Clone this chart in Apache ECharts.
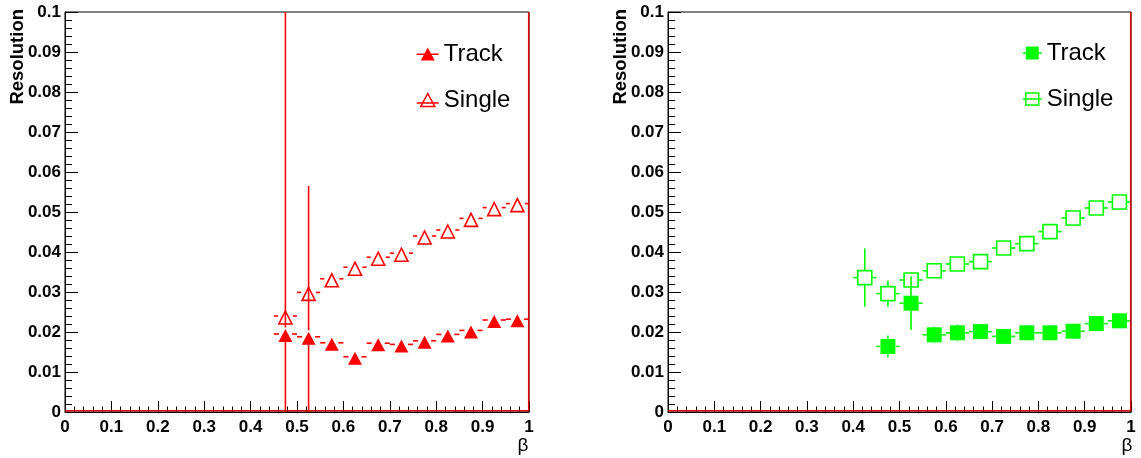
<!DOCTYPE html>
<html>
<head>
<meta charset="utf-8">
<script src="https://cdn.jsdelivr.net/npm/echarts@6/dist/echarts.min.js"></script>
<style>
html,body{margin:0;padding:0;background:#fff;}
#chart{width:1141px;height:458px;}
</style>
</head>
<body>
<div id="chart"></div>
<script>
// ---------- data ----------
const xTickLabels = ['0','0.1','0.2','0.3','0.4','0.5','0.6','0.7','0.8','0.9','1'];
const yTickLabels = ['0','0.01','0.02','0.03','0.04','0.05','0.06','0.07','0.08','0.09','0.1'];
const binHalfWidth = 0.025;

// left panel (red)
const leftX         = [0.475,0.525,0.575,0.625,0.675,0.725,0.775,0.825,0.875,0.925,0.975];
const leftTrack     = [0.0195,0.0188,0.0173,0.0138,0.0172,0.0169,0.0178,0.0194,0.0204,0.0230,0.0232];
const leftTrackErr  = [0.09,0.0377,0.001,0.001,0.001,0.001,0.001,0.001,0.001,0.001,0.001];
const leftSingle    = [0.0240,0.0299,0.0333,0.0362,0.0387,0.0397,0.0440,0.0455,0.0484,0.0511,0.0521];
const leftSingleErr = [0.001,0.001,0.001,0.001,0.001,0.001,0.001,0.001,0.001,0.001,0.001];

// right panel (green)
const rightTrackX     = [0.475,0.525,0.575,0.625,0.675,0.725,0.775,0.825,0.875,0.925,0.975];
const rightTrack      = [0.0164,0.0272,0.0193,0.0198,0.0201,0.0189,0.0198,0.0198,0.0202,0.0221,0.0228];
const rightTrackErr   = [0.0027,0.0067,0.0021,0.0021,0.0019,0.001,0.001,0.001,0.001,0.001,0.001];
const rightSingleX    = [0.425,0.475,0.525,0.575,0.625,0.675,0.725,0.775,0.825,0.875,0.925,0.975];
const rightSingle     = [0.0336,0.0296,0.0330,0.0353,0.0370,0.0376,0.0410,0.0421,0.0451,0.0485,0.0510,0.0525];
const rightSingleErr  = [0.0073,0.0033,0.0015,0.001,0.001,0.001,0.001,0.001,0.001,0.001,0.001,0.001];

// ---------- helpers ----------
const RED = '#ff0000', GREEN = '#00ff00';
const LABEL_FONT = 'Liberation Sans';

function pts(xs, ys, es){ return xs.map((x,i)=>[x, ys[i], es ? es[i] : 0]); }

function errSeries(name, xi, yi, data, color, gap){
  return {
    type:'custom', name:name, xAxisIndex:xi, yAxisIndex:yi, z:2,
    silent:true, legendHoverLink:false,
    encode:{x:0, y:1},
    data:data,
    renderItem:function(params, api){
      const x = api.value(0), y = api.value(1), e = api.value(2);
      const c = api.coord([x,y]);
      const xl = api.coord([x-binHalfWidth, y])[0];
      const xr = api.coord([x+binHalfWidth, y])[0];
      const top = api.coord([x, Math.min(y+e, 0.1)])[1];
      const bot = api.coord([x, Math.max(y-e, 0)])[1];
      const st = {stroke:color, lineWidth:1.6};
      const ch = [];
      if (c[0]-gap > xl) ch.push({type:'line', shape:{x1:xl,y1:c[1],x2:c[0]-gap,y2:c[1]}, style:st});
      if (xr > c[0]+gap) ch.push({type:'line', shape:{x1:c[0]+gap,y1:c[1],x2:xr,y2:c[1]}, style:st});
      if (c[1]-gap > top) ch.push({type:'line', shape:{x1:c[0],y1:top,x2:c[0],y2:c[1]-gap}, style:st});
      if (bot > c[1]+gap) ch.push({type:'line', shape:{x1:c[0],y1:c[1]+gap,x2:c[0],y2:bot}, style:st});
      return {type:'group', children:ch};
    }
  };
}

function xAxisDef(gi){
  return {
    type:'value', gridIndex:gi, min:0, max:1, interval:0.1,
    axisLine:{show:true, onZero:false, lineStyle:{color:'#000', width:1}},
    axisTick:{show:true, inside:true, length:11, lineStyle:{color:'#000', width:1}},
    minorTick:{show:true, splitNumber:5, length:5.5, lineStyle:{color:'#000', width:1}},
    splitLine:{show:false},
    axisLabel:{color:'#000', fontFamily:LABEL_FONT, fontWeight:'bold', fontSize:17, margin:7,
      formatter:v=>xTickLabels[Math.round(v*10)]}
  };
}
function yAxisDef(gi){
  return {
    type:'value', gridIndex:gi, min:0, max:0.1, interval:0.01,
    axisLine:{show:true, onZero:false, lineStyle:{color:'#000', width:1}},
    axisTick:{show:true, inside:true, length:13, lineStyle:{color:'#000', width:1}},
    minorTick:{show:true, splitNumber:5, length:7, lineStyle:{color:'#000', width:1}},
    splitLine:{show:false},
    axisLabel:{color:'#000', fontFamily:LABEL_FONT, fontWeight:'bold', fontSize:17, margin:4,
      formatter:v=>yTickLabels[Math.round(v*100)]}
  };
}
function outline(xi, yi){
  return {type:'line', xAxisIndex:xi, yAxisIndex:yi, silent:true, symbol:'none', z:3,
    lineStyle:{color:'#e00000', width:1.5}, data:[[0,0.0003],[0.9993,0.0003],[0.9993,0.1]], legendHoverLink:false};
}

const triFill  = 'path://M0,7H22V8.5H0Z M11,1L18,14L4,14Z';
const triOpen  = 'path://M0,10.5L22,10.5 M11,1L18,14L4,14Z';
const sqFill   = 'path://M0,6H19V7.5H0Z M3,0H16V13H3Z';
const sqOpen   = 'path://M0,6.5L19,6.5 M3,0.5H16V12.5H3Z';

const chart = echarts.init(document.getElementById('chart'), null, {renderer:'canvas'});
chart.setOption({
  animation:false,
  backgroundColor:'#fff',
  grid:[
    {left:65, top:12, width:464, height:400, show:true, borderColor:'#000', borderWidth:1, backgroundColor:'#fff'},
    {left:668, top:12, width:463, height:400, show:true, borderColor:'#000', borderWidth:1, backgroundColor:'#fff'}
  ],
  xAxis:[xAxisDef(0), xAxisDef(1)],
  yAxis:[yAxisDef(0), yAxisDef(1)],
  legend:[
    {orient:'vertical', left:416, top:42, padding:0, itemGap:22, itemWidth:22, itemHeight:15,
     selectedMode:false,
     textStyle:{fontFamily:LABEL_FONT, fontSize:24, lineHeight:24, color:'#000'},
     data:[
       {name:'Track', icon:triFill, itemStyle:{color:RED, borderWidth:0}},
       {name:'Single', icon:triOpen, itemStyle:{color:'transparent', borderColor:RED, borderWidth:1.5}}
     ]},
    {orient:'vertical', left:1022, top:41, padding:0, itemGap:22, itemWidth:19, itemHeight:14,
     selectedMode:false,
     formatter:n=>n.replace('_R',''),
     textStyle:{fontFamily:LABEL_FONT, fontSize:24, lineHeight:24, color:'#000'},
     data:[
       {name:'Track_R', icon:sqFill, itemStyle:{color:GREEN, borderWidth:0}},
       {name:'Single_R', icon:sqOpen, itemStyle:{color:'transparent', borderColor:GREEN, borderWidth:1.5}}
     ]}
  ],
  graphic:[
    {type:'text', x:18, y:9, rotation:Math.PI/2,
     style:{text:'Resolution', align:'right', verticalAlign:'middle', font:'bold 18.5px "Liberation Sans"', fill:'#000'}},
    {type:'text', x:621, y:9, rotation:Math.PI/2,
     style:{text:'Resolution', align:'right', verticalAlign:'middle', font:'bold 18.5px "Liberation Sans"', fill:'#000'}},
    {type:'text', x:523, y:446, style:{text:'β', align:'center', verticalAlign:'middle', font:'19px "Liberation Sans"', fill:'#000'}},
    {type:'text', x:1127, y:446, style:{text:'β', align:'center', verticalAlign:'middle', font:'19px "Liberation Sans"', fill:'#000'}}
  ],
  series:[
    outline(0,0), outline(1,1),
    errSeries('errLT', 0, 0, pts(leftX, leftTrack, leftTrackErr), RED, 6.5),
    errSeries('errLS', 0, 0, pts(leftX, leftSingle, leftSingleErr), RED, 7.5),
    errSeries('errRT', 1, 1, pts(rightTrackX, rightTrack, rightTrackErr), GREEN, 7.5),
    errSeries('errRS', 1, 1, pts(rightSingleX, rightSingle, rightSingleErr), GREEN, 7.5),
    {name:'Track', type:'scatter', xAxisIndex:0, yAxisIndex:0, z:4,
     symbol:'triangle', symbolSize:[14,13], symbolOffset:[0,1.5],
     itemStyle:{color:RED, opacity:1}, data:pts(leftX, leftTrack)},
    {name:'Single', type:'scatter', xAxisIndex:0, yAxisIndex:0, z:4,
     symbol:'triangle', symbolSize:[13,13], symbolOffset:[0,1.5],
     itemStyle:{color:'transparent', borderColor:RED, borderWidth:1.6, opacity:1}, data:pts(leftX, leftSingle)},
    {name:'Track_R', type:'scatter', xAxisIndex:1, yAxisIndex:1, z:4,
     symbol:'rect', symbolSize:15,
     itemStyle:{color:GREEN, opacity:1}, data:pts(rightTrackX, rightTrack)},
    {name:'Single_R', type:'scatter', xAxisIndex:1, yAxisIndex:1, z:4,
     symbol:'rect', symbolSize:14,
     itemStyle:{color:'transparent', borderColor:GREEN, borderWidth:1.6, opacity:1}, data:pts(rightSingleX, rightSingle)}
  ]
});
</script>
</body>
</html>
